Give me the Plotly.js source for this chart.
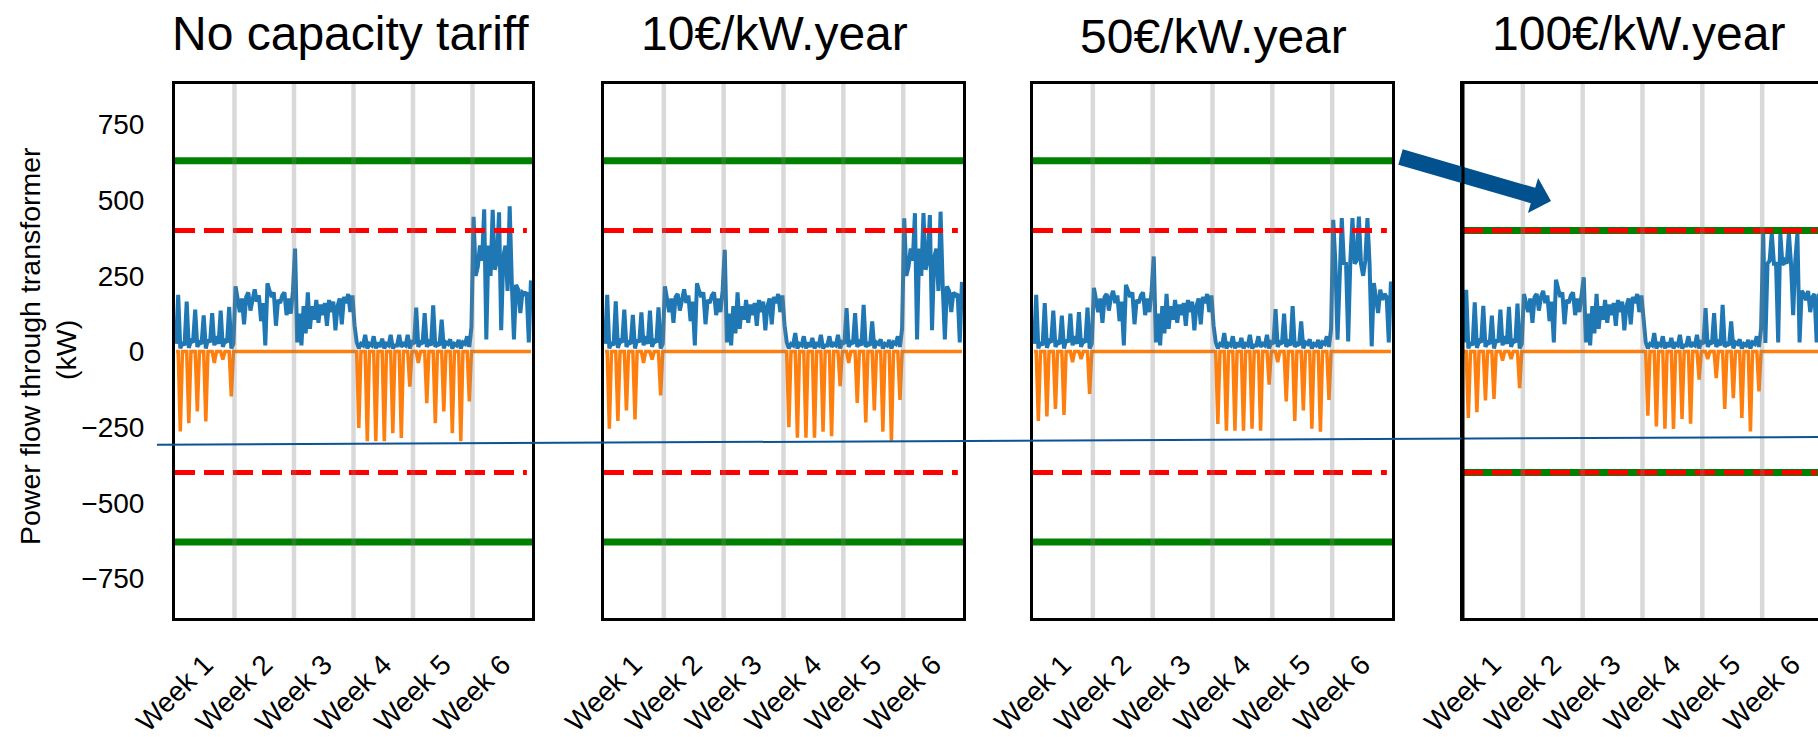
<!DOCTYPE html>
<html><head><meta charset="utf-8">
<script src="https://cdn.plot.ly/plotly-3.0.1.min.js"></script>
<style>html,body{margin:0;padding:0;overflow:hidden;background:#fff}#chart{width:1830px;height:737px}</style>
</head><body><div id="chart"></div><script>
// ---------------- data ----------------
const panelTitles = ["No capacity tariff", "10€/kW.year", "50€/kW.year", "100€/kW.year"];
const weekLabels = ["Week 1", "Week 2", "Week 3", "Week 4", "Week 5", "Week 6"];
const weekCenters = [3.5, 10.5, 17.5, 24.5, 31.5, 38.5];
const weekBoundaries = [7, 14, 21, 28, 35];
const hoursPerSample = 6;
const transformerLimit = [630, 630, 630, 400];   // green
const contractedLimit = [400, 400, 400, 400];    // red dashed
const yTicks = [-750, -500, -250, 0, 250, 500, 750];

const importP1 = [25,187,10,30,20,165,12,35,30,138,15,30,25,119,10,40,30,127,20,50,25,135,15,35,30,147,10,25,
215,160,130,175,90,180,195,135,180,205,165,185,100,160,20,225,200,180,195,85,170,160,185,195,120,175,125,200,
340,30,125,20,150,60,195,75,150,105,170,95,155,120,160,85,170,130,165,70,150,175,90,180,160,190,130,185,
85,30,10,25,20,55,10,25,20,50,10,30,15,42,10,25,20,55,10,20,20,55,15,25,20,55,10,30,
25,145,15,30,25,127,15,30,20,152,15,25,20,105,10,30,25,40,10,25,20,38,10,30,25,50,15,80,
445,250,280,350,300,470,40,350,250,468,270,300,460,70,315,350,200,480,226,40,220,205,127,195,190,195,30,235];
const exportP1 = [0,0,-264,0,0,0,-237,0,0,0,-198,0,0,0,-231,0,0,0,-38,0,0,0,-27,0,0,0,-149,0,
0,0,0,0,0,0,0,0,0,0,0,0,0,0,0,0,0,0,0,0,0,0,0,0,0,0,0,0,
0,0,0,0,0,0,0,0,0,0,0,0,0,0,0,0,0,0,0,0,0,0,0,0,0,0,0,0,
0,0,-253,0,0,0,-297,0,0,0,-297,0,0,0,-297,0,0,0,-270,0,0,0,-286,0,0,0,-116,0,
0,0,-38,0,0,0,-171,0,0,0,-237,0,0,0,-198,0,0,0,-270,0,0,0,-297,0,0,0,-165,0,
0,0,0,0,0,0,0,0,0,0,0,0,0,0,0,0,0,0,0,0,0,0,0,0,0,0,0,0];

const importP2 = [25,187,10,30,20,166,12,35,30,138,15,30,25,121,10,40,30,129,20,50,25,135,15,35,30,146,10,25,
215,165,130,175,95,180,190,135,180,205,160,185,100,165,20,225,200,180,195,90,170,160,185,195,120,175,130,200,
336,30,125,20,150,60,195,75,150,105,170,95,155,120,160,85,170,130,165,70,150,175,90,180,160,190,130,185,
85,30,10,25,20,61,10,25,20,50,10,30,15,45,10,25,20,55,10,20,20,50,15,25,20,55,10,30,
25,143,15,30,25,127,15,30,20,154,15,25,20,99,10,30,25,40,10,25,20,38,10,30,25,50,15,75,
440,250,280,340,300,457,40,340,250,457,270,300,451,70,310,340,200,462,220,40,215,200,130,195,185,190,30,230];
const exportP2 = [0,0,-255,0,0,0,-230,0,0,0,-195,0,0,0,-225,0,0,0,-38,0,0,0,-27,0,0,0,-145,0,
0,0,0,0,0,0,0,0,0,0,0,0,0,0,0,0,0,0,0,0,0,0,0,0,0,0,0,0,
0,0,0,0,0,0,0,0,0,0,0,0,0,0,0,0,0,0,0,0,0,0,0,0,0,0,0,0,
0,0,-250,0,0,0,-285,0,0,0,-285,0,0,0,-285,0,0,0,-265,0,0,0,-280,0,0,0,-115,0,
0,0,-38,0,0,0,-170,0,0,0,-235,0,0,0,-195,0,0,0,-265,0,0,0,-295,0,0,0,-160,0,
0,0,0,0,0,0,0,0,0,0,0,0,0,0,0,0,0,0,0,0,0,0,0,0,0,0,0,0];

const importP3 = [25,187,10,30,20,160,12,35,30,135,15,30,25,118,10,40,30,125,20,50,25,130,15,35,30,145,10,25,
210,160,130,175,95,180,190,135,180,200,160,185,100,165,20,220,200,180,195,90,170,160,185,195,120,175,130,200,
314,30,125,20,150,60,190,75,150,105,170,95,155,120,160,85,170,130,165,70,150,175,90,180,160,190,130,185,
85,30,10,25,20,61,10,25,20,50,10,30,15,45,10,25,20,55,10,20,20,50,15,25,20,55,10,30,
25,140,15,30,25,125,15,30,20,150,15,25,20,99,10,30,25,40,10,25,20,38,10,30,25,50,15,75,
435,292,39,300,441,292,290,33,300,441,290,300,446,290,250,300,441,290,17,226,180,127,204,171,190,180,30,231];
const exportP3 = [0,0,-230,0,0,0,-215,0,0,0,-190,0,0,0,-210,0,0,0,-35,0,0,0,-25,0,0,0,-140,0,
0,0,0,0,0,0,0,0,0,0,0,0,0,0,0,0,0,0,0,0,0,0,0,0,0,0,0,0,
0,0,0,0,0,0,0,0,0,0,0,0,0,0,0,0,0,0,0,0,0,0,0,0,0,0,0,0,
0,0,-240,0,0,0,-262,0,0,0,-262,0,0,0,-262,0,0,0,-255,0,0,0,-262,0,0,0,-110,0,
0,0,-35,0,0,0,-165,0,0,0,-230,0,0,0,-195,0,0,0,-255,0,0,0,-265,0,0,0,-160,0,
0,0,0,0,0,0,0,0,0,0,0,0,0,0,0,0,0,0,0,0,0,0,0,0,0,0,0,0];

const importP4 = [30,204,10,30,20,162,12,35,30,151,15,30,25,118,10,40,30,138,20,50,25,147,15,35,30,158,10,25,
190,160,130,175,95,180,190,135,180,200,160,185,100,165,30,237,200,180,195,90,170,160,185,195,120,175,130,200,
245,30,125,20,150,60,190,75,150,105,170,95,155,120,160,85,170,130,165,70,150,175,90,180,160,190,130,185,
85,30,10,25,20,61,10,25,20,50,10,30,15,45,10,25,20,55,10,20,20,50,15,25,20,55,10,30,
25,143,15,30,25,127,15,30,20,154,15,25,20,99,10,30,25,40,10,25,20,38,10,30,25,50,15,75,
391,28,290,300,391,290,290,30,391,285,300,290,391,290,120,300,391,30,200,190,170,200,130,180,190,30,185,200];
const exportP4 = [0,0,-220,0,0,0,-201,0,0,0,-162,0,0,0,-157,0,0,0,-30,0,0,0,-25,0,0,0,-121,0,
0,0,0,0,0,0,0,0,0,0,0,0,0,0,0,0,0,0,0,0,0,0,0,0,0,0,0,0,
0,0,0,0,0,0,0,0,0,0,0,0,0,0,0,0,0,0,0,0,0,0,0,0,0,0,0,0,
0,0,-212,0,0,0,-248,0,0,0,-255,0,0,0,-256,0,0,0,-223,0,0,0,-239,0,0,0,-93,0,
0,0,-25,0,0,0,-88,0,0,0,-190,0,0,0,-154,0,0,0,-220,0,0,0,-264,0,0,0,-132,0,
0,0,0,0,0,0,0,0,0,0,0,0,0,0,0,0,0,0,0,0,0,0,0,0,0,0,0,0];

const importSeries = [importP1, importP2, importP3, importP4];
const exportSeries = [exportP1, exportP2, exportP3, exportP4];

// ---------------- layout helpers ----------------
const W = 1830, H = 737;
const px = x => x / W;
const py = y => 1 - y / H;
const FONT = "Liberation Sans, Arial, Helvetica, sans-serif";
const xDomPx = [[175, 532], [604, 963], [1033, 1392], [1463, 1822]];
const yDom = [py(618), py(84)];
const dayRange = [0, 42];

const time = importP1.map((_, i) => (i + 0.5) * hoursPerSample / 24);

const traces = [];
const layout = {
  width: W, height: H,
  margin: {l: 0, r: 0, t: 0, b: 0},
  paper_bgcolor: "#fff", plot_bgcolor: "rgba(0,0,0,0)",
  showlegend: false, hovermode: false,
  font: {family: FONT, color: "#000"},
  shapes: [], annotations: []
};

for (let k = 0; k < 4; k++) {
  const s = k === 0 ? "" : String(k + 1);
  const xa = "x" + s, ya = "y" + s;
  traces.push({x: time, y: importSeries[k], xaxis: xa, yaxis: ya, type: "scatter", mode: "lines",
    line: {color: "#1f77b4", width: 4}});
  traces.push({x: time, y: exportSeries[k], xaxis: xa, yaxis: ya, type: "scatter", mode: "lines",
    line: {color: "#ff7f0e", width: 3.5}});
  [transformerLimit[k], -transformerLimit[k]].forEach(v => traces.push({
    x: dayRange, y: [v, v], xaxis: xa, yaxis: ya, type: "scatter", mode: "lines",
    line: {color: "#008000", width: 7}}));
  [contractedLimit[k], -contractedLimit[k]].forEach(v => traces.push({
    x: [dayRange[0], dayRange[1] - 0.6], y: [v, v], xaxis: xa, yaxis: ya, type: "scatter", mode: "lines",
    line: {color: "#ff0000", width: 5, dash: "20px,9px"}}));

  layout["xaxis" + s] = {
    domain: [px(xDomPx[k][0]), px(xDomPx[k][1])], anchor: ya, range: dayRange,
    showline: true, mirror: true, linecolor: "#000", linewidth: 3,
    showgrid: false, zeroline: false,
    tickmode: "array", tickvals: weekCenters, ticktext: weekLabels, tickangle: -45,
    ticks: "outside", ticklen: 16, tickcolor: "rgba(0,0,0,0)",
    tickfont: {size: 28, family: FONT, color: "#000"}
  };
  layout["yaxis" + s] = {
    domain: yDom, anchor: xa, range: [-881, 884],
    showline: true, mirror: true, linecolor: "#000", linewidth: 3,
    showgrid: false, zeroline: false,
    tickmode: "array", tickvals: yTicks, showticklabels: k === 0,
    ticks: "outside", ticklen: 22, tickcolor: "rgba(0,0,0,0)",
    tickfont: {size: 28, family: FONT, color: "#000"}
  };
  weekBoundaries.forEach(b => layout.shapes.push({
    type: "line", xref: xa, yref: ya + " domain", x0: b, x1: b, y0: 0, y1: 1,
    line: {color: "rgba(128,128,128,0.3)", width: 4.5}, layer: "above"}));
}

// panel titles
const titleCx = [350, 774, 1213, 1639];
const titleCy = [33, 33, 37, 33];
panelTitles.forEach((t, k) => layout.annotations.push({
  text: t, xref: "paper", yref: "paper", x: px(titleCx[k]), y: py(titleCy[k]),
  xanchor: "center", yanchor: "middle", showarrow: false,
  font: {size: 48, family: FONT, color: "#000"}}));

// y axis title (two lines)
layout.annotations.push({text: "Power flow through transformer", xref: "paper", yref: "paper",
  x: px(30), y: py(346), xanchor: "center", yanchor: "middle", textangle: -90, showarrow: false,
  font: {size: 28.5, family: FONT, color: "#000"}});
layout.annotations.push({text: "(kW)", xref: "paper", yref: "paper",
  x: px(66), y: py(350), xanchor: "center", yanchor: "middle", textangle: -90, showarrow: false,
  font: {size: 28.5, family: FONT, color: "#000"}});

// thin reference line
layout.shapes.push({type: "line", xref: "paper", yref: "paper",
  x0: px(157), y0: py(444.7), x1: px(1830), y1: py(436.9),
  line: {color: "#0b5394", width: 2}, layer: "above"});

// big arrow
const arrowPts = [[1402.7,149.3],[1535.2,187.8],[1538.1,178],[1551,201],[1527.9,213],[1530.8,203.2],[1398.3,164.7]];
layout.shapes.push({type: "path", xref: "paper", yref: "paper",
  path: "M " + arrowPts.map(p => px(p[0]) + "," + py(p[1])).join(" L ") + " Z",
  fillcolor: "#02518f", line: {width: 0}, layer: "above"});
// panel-4 left frame redrawn over the arrow
layout.shapes.push({type: "line", xref: "x4 domain", yref: "y4 domain", x0: 0, x1: 0, y0: 0, y1: 1,
  line: {color: "#000", width: 3}, layer: "above"});

Plotly.newPlot("chart", traces, layout, {displayModeBar: false, staticPlot: true});
</script></body></html>
